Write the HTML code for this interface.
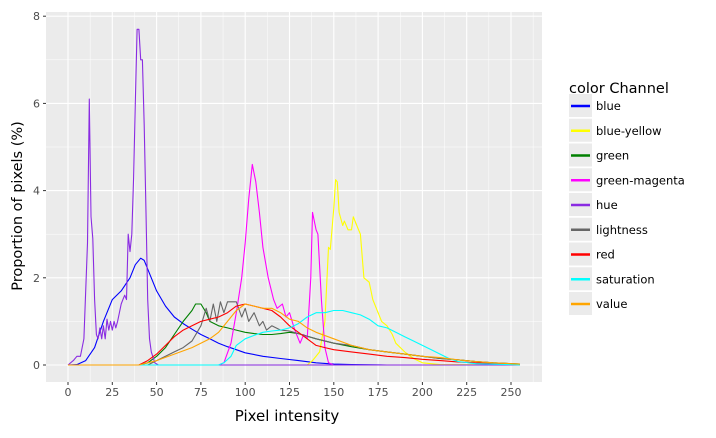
<!DOCTYPE html>
<html><head><meta charset="utf-8"><style>
body{margin:0;background:#fff;font-family:"Liberation Sans","DejaVu Sans",sans-serif}
svg text{font-family:"DejaVu Sans","Liberation Sans",sans-serif}
</style></head><body>
<svg id="chart" width="716" height="433" xmlns="http://www.w3.org/2000/svg">
<rect x="46" y="12" width="496" height="370" fill="#ebebeb"/>
<g id="grid"></g><g id="series"></g><g id="axes"></g><g id="legend"></g>
</svg>
<script>
const xTicks=[0,25,50,75,100,125,150,175,200,225,250];
const yTicks=[0,2,4,6,8];
const seriesNames=["blue","blue-yellow","green","green-magenta","hue","lightness","red","saturation","value"];
const seriesColors=["#0000ff","#ffff00","#008000","#ff00ff","#8a2be2","#666666","#ff0000","#00ffff","#ffa500"];
const blueX=[0,5,10,15,20,25,30,35,38,41,43,45,50,55,60,65,70,75,80,85,90,95,100,110,120,130,140,150,160,180,255];
const blueY=[0,0.01,0.1,0.4,1.0,1.5,1.7,2.0,2.3,2.45,2.4,2.2,1.7,1.35,1.1,0.95,0.82,0.7,0.6,0.5,0.42,0.35,0.28,0.2,0.15,0.1,0.05,0.02,0.01,0,0];
const yellowX=[0,135,138,142,145,147,148,150,151,152,153,155,156,158,160,161,163,165,167,170,172,175,177,180,183,185,190,195,200,210,255];
const yellowY=[0,0,0.1,0.3,1.0,2.7,2.65,3.6,4.25,4.2,3.5,3.2,3.3,3.1,3.1,3.4,3.2,3.0,2.0,1.9,1.5,1.2,1.0,0.9,0.7,0.5,0.3,0.15,0.05,0.01,0];
const greenX=[0,40,45,50,55,60,65,70,72,75,78,80,85,90,95,100,105,110,115,120,125,130,140,150,160,170,180,190,200,210,220,230,240,250,255];
const greenY=[0,0,0.05,0.2,0.4,0.7,1.0,1.25,1.4,1.4,1.2,1.0,0.9,0.85,0.8,0.75,0.72,0.7,0.7,0.72,0.75,0.72,0.6,0.5,0.42,0.35,0.3,0.25,0.2,0.15,0.12,0.08,0.05,0.03,0.02];
const magentaX=[0,85,88,92,95,98,100,102,104,106,108,110,113,116,118,121,123,125,128,131,133,135,137,138,140,141,143,145,147,150,255];
const magentaY=[0,0,0.05,0.5,1.2,2.0,2.8,3.8,4.6,4.2,3.5,2.7,2.0,1.5,1.3,1.4,1.1,1.2,0.8,0.5,0.7,0.6,2.0,3.5,3.1,3.0,1.5,0.4,0.05,0,0];
const hueX=[0,3,5,7,9,11,12,13,14,15,16,17,18,19,20,21,22,23,24,25,26,27,28,29,30,31,32,33,34,35,36,37,38,39,40,41,42,43,44,45,46,47,49,51,255];
const hueY=[0,0.1,0.2,0.2,0.6,2.8,6.1,3.4,2.9,1.5,0.7,0.6,0.85,0.6,0.9,0.6,1.05,0.8,1.0,0.8,1.0,0.85,1.0,1.2,1.4,1.5,1.6,1.5,3.0,2.6,3.0,4.3,6.0,7.7,7.7,7.0,7.0,5.5,3.5,1.5,0.6,0.3,0.05,0,0];
const lightX=[0,45,50,55,60,65,70,75,78,80,82,84,86,88,90,95,98,100,102,105,108,110,112,115,120,125,130,140,150,160,170,180,190,200,210,220,230,240,255];
const lightY=[0,0,0.1,0.2,0.3,0.4,0.55,0.9,1.3,1.0,1.4,1.0,1.45,1.2,1.45,1.45,1.1,1.3,1.0,1.2,0.9,1.0,0.8,0.9,0.8,0.78,0.72,0.6,0.5,0.45,0.35,0.3,0.25,0.2,0.15,0.12,0.08,0.05,0.02];
const redX=[0,40,45,50,55,60,65,70,75,80,85,90,95,100,105,110,115,120,125,130,135,140,145,150,160,170,180,190,200,210,220,230,240,255];
const redY=[0,0,0.1,0.25,0.45,0.65,0.8,0.9,1.0,1.05,1.1,1.2,1.35,1.4,1.35,1.3,1.25,1.1,0.9,0.75,0.6,0.45,0.4,0.35,0.3,0.25,0.2,0.17,0.13,0.1,0.07,0.05,0.03,0.01];
const satX=[0,85,88,92,95,100,105,110,115,120,125,130,135,140,145,150,155,160,165,170,175,180,185,190,195,200,205,210,215,220,230,250,255];
const satY=[0,0,0.05,0.2,0.45,0.6,0.68,0.75,0.78,0.8,0.85,0.95,1.1,1.2,1.2,1.25,1.25,1.2,1.15,1.05,0.9,0.85,0.75,0.65,0.55,0.45,0.35,0.25,0.15,0.08,0.03,0.01,0];
const valueX=[0,40,50,60,70,80,85,90,95,100,105,110,115,120,125,130,135,140,150,160,170,180,190,200,210,220,230,240,250,255];
const valueY=[0,0,0.1,0.25,0.4,0.6,0.75,1.0,1.25,1.4,1.35,1.3,1.3,1.2,1.05,1.0,0.85,0.75,0.6,0.45,0.35,0.3,0.25,0.2,0.17,0.12,0.08,0.05,0.03,0.02];
const seriesX=[blueX,yellowX,greenX,magentaX,hueX,lightX,redX,satX,valueX];
const seriesY=[blueY,yellowY,greenY,magentaY,hueY,lightY,redY,satY,valueY];

const NS="http://www.w3.org/2000/svg";
const sx=v=>68+v*1.772, sy=v=>365-v*43.6;
function mk(t,a,p){const e=document.createElementNS(NS,t);for(const k in a)e.setAttribute(k,a[k]);p.appendChild(e);return e;}
const grid=document.getElementById('grid'),axes=document.getElementById('axes'),ser=document.getElementById('series'),leg=document.getElementById('legend');
for(let i=0;i<yTicks.length;i++){
  const l=mk('line',{x1:46,x2:542,y1:sy(yTicks[i]),y2:sy(yTicks[i]),stroke:'#fff','stroke-width':1.1},grid);
  
  
  if(i<yTicks.length-1){const m=mk('line',{x1:46,x2:542,y1:sy((yTicks[i]+yTicks[i+1])/2),y2:sy((yTicks[i]+yTicks[i+1])/2),stroke:'#fff','stroke-width':0.5},grid);
  
  }
  mk('line',{x1:43,x2:46,y1:sy(yTicks[i]),y2:sy(yTicks[i]),stroke:'#333'},axes);
  const t=mk('text',{x:40,y:sy(yTicks[i])+4,'text-anchor':'end','font-size':11,fill:'#4d4d4d'},axes);t.textContent=yTicks[i];
  
  
}
for(let i=0;i<xTicks.length;i++){
  const l=mk('line',{y1:12,y2:382,x1:sx(xTicks[i]),x2:sx(xTicks[i]),stroke:'#fff','stroke-width':1.1},grid);
  
  
  const mx=xTicks[i]+12.5; if(sx(mx)<542){const m=mk('line',{y1:12,y2:382,x1:sx(mx),x2:sx(mx),stroke:'#fff','stroke-width':0.5},grid);
  
  }
  mk('line',{y1:382,y2:385,x1:sx(xTicks[i]),x2:sx(xTicks[i]),stroke:'#333'},axes);
  const t=mk('text',{x:sx(xTicks[i]),y:396,'text-anchor':'middle','font-size':11,fill:'#4d4d4d'},axes);t.textContent=xTicks[i];
  
  
}
let t=mk('text',{x:287,y:421,'text-anchor':'middle','font-size':15,fill:'#000'},axes);t.textContent='Pixel intensity';


t=mk('text',{x:0,y:0,transform:'translate(22,206) rotate(-90)','text-anchor':'middle','font-size':14.5,fill:'#000'},axes);t.textContent='Proportion of pixels (%)';


for(let s=0;s<seriesNames.length;s++){
  const pts=seriesX[s].map((x,i)=>sx(x).toFixed(1)+','+sy(seriesY[s][i]).toFixed(1)).join(' ');
  const p=mk('polyline',{points:pts,fill:'none',stroke:seriesColors[s],'stroke-width':1.1,'stroke-linejoin':'round'},ser);
  
  
}
t=mk('text',{x:569,y:93,'font-size':14.5,fill:'#000'},leg);t.textContent='color Channel';


for(let s=0;s<seriesNames.length;s++){
  const y=106+s*24.75;
  const g=mk('g',{},leg);
  
  
  mk('rect',{x:569,y:y-12,width:23,height:23,fill:'#ebebeb'},g);
  mk('line',{x1:571,x2:590,y1:y,y2:y,stroke:seriesColors[s],'stroke-width':2.5},g);
  const tt=mk('text',{x:596,y:y+4,'font-size':11.5,fill:'#000'},g);tt.textContent=seriesNames[s];
}
</script>
</body></html>
